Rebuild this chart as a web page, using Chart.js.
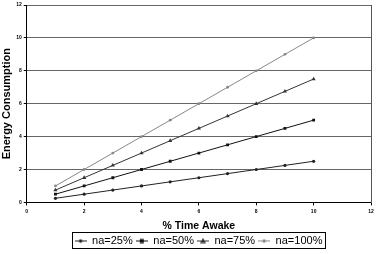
<!DOCTYPE html>
<html>
<head>
<meta charset="utf-8">
<script src="https://cdn.jsdelivr.net/npm/chart.js@4.4.1/dist/chart.umd.min.js"></script>
<style>
  html, body { margin: 0; padding: 0; background: #fff; }
  #wrap { width: 378px; height: 254px; }
</style>
</head>
<body>
<div id="wrap"><canvas id="chart"></canvas></div>
<script>
// values
const timeAwake = [1, 2, 3, 4, 5, 6, 7, 8, 9, 10];
const na25 = [0.25, 0.5, 0.75, 1.0, 1.25, 1.5, 1.75, 2.0, 2.25, 2.5];
const na50 = [0.5, 1.0, 1.5, 2.0, 2.5, 3.0, 3.5, 4.0, 4.5, 5.0];
const na75 = [0.75, 1.5, 2.25, 3.0, 3.75, 4.5, 5.25, 6.0, 6.75, 7.5];
const na100 = [1, 2, 3, 4, 5, 6, 7, 8, 9, 10];
const seriesLabels = ['na=25%', 'na=50%', 'na=75%', 'na=100%'];
const yTicks = [0, 2, 4, 6, 8, 10, 12];
const xTicks = [0, 2, 4, 6, 8, 10, 12];

const toXY = (ys) => ys.map((y, i) => ({ x: timeAwake[i], y: y }));

// little legend icon: line with a dot in the middle
function legendIcon(color, style) {
  const c = document.createElement('canvas');
  c.width = 12; c.height = 6;
  const g = c.getContext('2d');
  g.strokeStyle = color; g.fillStyle = color; g.lineWidth = 1;
  g.beginPath(); g.moveTo(0, 3.5); g.lineTo(12, 3.5); g.stroke();
  if (style === 'rect') g.fillRect(4, 1.5, 4, 4);
  else if (style === 'triangle') { g.beginPath(); g.moveTo(6, 0.5); g.lineTo(9, 5.5); g.lineTo(3, 5.5); g.fill(); }
  else { g.beginPath(); g.arc(6, 3.5, 1.8, 0, Math.PI * 2); g.fill(); }
  return c;
}

const colors = ['#222', '#111', '#333', '#888'];
const styles = ['circle', 'rect', 'triangle', 'circle'];
const radii = [1.6, 2, 2.4, 1.4];

// nudge the legend right so it sits under the plot, then box it
const legendBorder = {
  id: 'legendBorder',
  afterLayout(chart) {
    chart.legend.left += 18;
    chart.legend.legendHitBoxes.forEach(h => { h.left += 9; });
  },
  afterDraw(chart) {
    const boxes = chart.legend.legendHitBoxes;
    if (!boxes || !boxes.length) return;
    let l = Infinity, r = -Infinity, t = Infinity, b = -Infinity;
    boxes.forEach(h => {
      l = Math.min(l, h.left); r = Math.max(r, h.left + h.width);
      t = Math.min(t, h.top); b = Math.max(b, h.top + h.height);
    });
    const ctx = chart.ctx;
    ctx.save();
    ctx.strokeStyle = '#000';
    ctx.lineWidth = 1;
    ctx.strokeRect(Math.round(l - 3) + 0.5, Math.round(t - 3) + 0.5, Math.round(r - l + 5), Math.round(b - t + 5));
    ctx.restore();
  }
};

new Chart(document.getElementById('chart'), {
  type: 'line',
  data: {
    datasets: [na25, na50, na75, na100].map((vals, i) => ({
      label: seriesLabels[i],
      data: toXY(vals),
      borderColor: colors[i],
      backgroundColor: colors[i],
      borderWidth: 1,
      pointStyle: styles[i],
      pointRadius: radii[i],
      pointBorderWidth: 0,
      tension: 0
    }))
  },
  options: {
    responsive: true,
    maintainAspectRatio: false,
    animation: false,
    layout: { padding: { top: -1, right: -1, left: 0, bottom: -2 } },
    plugins: {
      legend: {
        position: 'bottom',
        labels: {
          color: '#000',
          font: { family: 'Liberation Sans', size: 11 },
          usePointStyle: true,
          pointStyleWidth: 12,
          boxHeight: 6,
          padding: 3,
          generateLabels(chart) {
            return chart.data.datasets.map((ds, i) => ({
              text: ds.label,
              pointStyle: legendIcon(colors[i], styles[i]),
              datasetIndex: i,
              fontColor: '#000',
              lineWidth: 0
            }));
          }
        }
      },
      tooltip: { enabled: false }
    },
    scales: {
      x: {
        type: 'linear',
        min: 0, max: 12,
        afterBuildTicks(axis) { axis.ticks = xTicks.map(v => ({ value: v })); },
        ticks: { color: '#000', font: { family: 'Liberation Sans', size: 5, weight: 'bold' }, padding: 3 },
        grid: { display: true, drawOnChartArea: false, color: '#000', tickLength: 3 },
        border: { color: '#000', width: 1 },
        title: { display: true, text: '% Time Awake', color: '#000', font: { family: 'Liberation Sans', size: 10.5, weight: 'bold' }, padding: { top: 2, bottom: 0 } }
      },
      y: {
        min: 0, max: 12,
        afterBuildTicks(axis) { axis.ticks = yTicks.map(v => ({ value: v })); },
        ticks: { color: '#000', font: { family: 'Liberation Sans', size: 5, weight: 'bold' }, padding: 2 },
        grid: { color: '#666', tickLength: 3, tickColor: '#000' },
        border: { color: '#000', width: 1 },
        title: { display: true, text: 'Energy Consumption', color: '#000', font: { family: 'Liberation Sans', size: 11, weight: 'bold' }, padding: { top: 0, bottom: 1 } }
      },
      y2: {
        position: 'right',
        min: 0, max: 12,
        ticks: { display: false },
        grid: { display: false },
        border: { color: '#555', width: 1 }
      }
    }
  },
  plugins: [legendBorder]
});
</script>
</body>
</html>
